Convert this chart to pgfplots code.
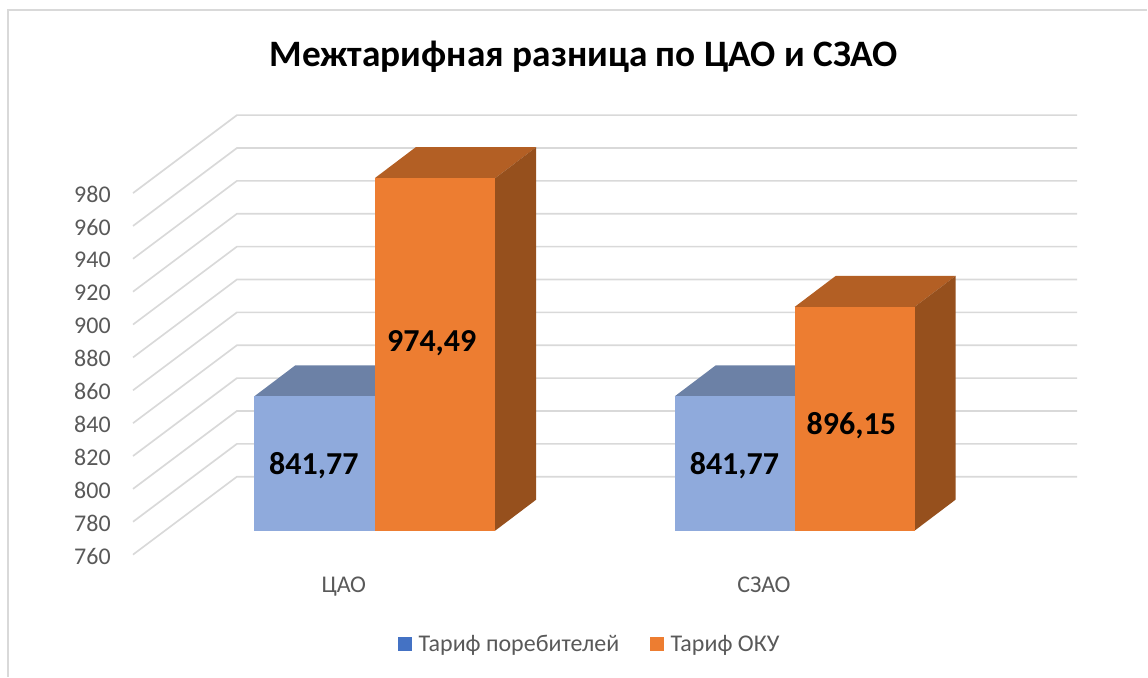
\documentclass[border=0pt]{standalone}
\usepackage{pgfplots}
\pgfplotsset{compat=1.18}
\usepackage{fontspec}
\setmainfont{Carlito}
\definecolor{gridc}{HTML}{D9D9D9}
\definecolor{blueface}{HTML}{8FAADC}
\definecolor{bluetop}{HTML}{6C81A6}
\definecolor{orangeface}{HTML}{ED7D31}
\definecolor{orangetop}{HTML}{B35F24}
\definecolor{orangeside}{HTML}{96501D}
\definecolor{legblue}{HTML}{4472C4}
\definecolor{txt}{HTML}{595959}
\begin{document}
\begin{tikzpicture}
\begin{axis}[
  scale only axis, width=861pt, height=507.75pt,
  xmin=0, xmax=1148, ymin=671.25, ymax=1082.83,
  clip=false,
  axis line style={draw=none},
  major tick length=0pt,
  minor tick num=0,
  ytick={760,780,800,820,840,860,880,900,920,940,960,980},
  xtick={344,764.5},
  xticklabels={ЦАО,СЗАО},
  /pgf/number format/assume math mode=true,
  /pgf/number format/1000 sep={},
  tick label style={font=\fontsize{18}{21}\selectfont, text=txt},
  yticklabel style={anchor=east, xshift=86.5pt, yshift=-19.1pt},
  xticklabel style={anchor=base, yshift=63pt},
  legend style={draw=none, fill=none, at={(axis cs:590.5,690.8)}, anchor=center,
    font=\fontsize{18}{21}\selectfont, text=txt, legend columns=2,
    /tikz/every even column/.append style={column sep=21pt},
    /tikz/every odd column/.append style={column sep=3pt}},
  legend cell align=left,
  legend image code/.code={\fill[#1] (0pt,-5.2pt) rectangle (10.5pt,5.2pt);},
]
% outer frame
\addplot[draw=gridc, line width=1.4pt, forget plot] coordinates {(7.5,671.25)(7.5,1076.7)(1148,1076.7)};
% gridlines: front end, back corner, back end
\addplot[draw=gridc, line width=1.25pt, forget plot] coordinates {(133,745.41)(237,792.83)(1078,792.83)};
\addplot[draw=gridc, line width=1.25pt, forget plot] coordinates {(133,765.41)(237,812.83)(1078,812.83)};
\addplot[draw=gridc, line width=1.25pt, forget plot] coordinates {(133,785.41)(237,832.83)(1078,832.83)};
\addplot[draw=gridc, line width=1.25pt, forget plot] coordinates {(133,805.41)(237,852.83)(1078,852.83)};
\addplot[draw=gridc, line width=1.25pt, forget plot] coordinates {(133,825.41)(237,872.83)(1078,872.83)};
\addplot[draw=gridc, line width=1.25pt, forget plot] coordinates {(133,845.41)(237,892.83)(1078,892.83)};
\addplot[draw=gridc, line width=1.25pt, forget plot] coordinates {(133,865.41)(237,912.83)(1078,912.83)};
\addplot[draw=gridc, line width=1.25pt, forget plot] coordinates {(133,885.41)(237,932.83)(1078,932.83)};
\addplot[draw=gridc, line width=1.25pt, forget plot] coordinates {(133,905.41)(237,952.83)(1078,952.83)};
\addplot[draw=gridc, line width=1.25pt, forget plot] coordinates {(133,925.41)(237,972.83)(1078,972.83)};
\addplot[draw=gridc, line width=1.25pt, forget plot] coordinates {(133,945.41)(237,992.83)(1078,992.83)};
\addplot[draw=gridc, line width=1.25pt, forget plot] coordinates {(133,965.41)(237,1012.83)(1078,1012.83)};
% CAO blue
\addplot[fill=bluetop, draw=none, forget plot] coordinates {(254.5,841.77)(295.5,860.61)(416,860.61)(375,841.77)} --cycle;
\addplot[fill=blueface, draw=none, forget plot] coordinates {(254.5,760)(375,760)(375,841.77)(254.5,841.77)} --cycle;
% CAO orange
\addplot[fill=orangetop, draw=none, forget plot] coordinates {(375,974.49)(416,993.33)(536.5,993.33)(495.5,974.49)} --cycle;
\addplot[fill=orangeside, draw=none, forget plot] coordinates {(495.5,760)(536.5,778.84)(536.5,993.33)(495.5,974.49)} --cycle;
\addplot[fill=orangeface, draw=none, forget plot] coordinates {(375,760)(495.5,760)(495.5,974.49)(375,974.49)} --cycle;
% SZAO blue
\addplot[fill=bluetop, draw=none, forget plot] coordinates {(675.3,841.77)(716.3,860.61)(836.3,860.61)(795.3,841.77)} --cycle;
\addplot[fill=blueface, draw=none, forget plot] coordinates {(675.3,760)(795.3,760)(795.3,841.77)(675.3,841.77)} --cycle;
% SZAO orange
\addplot[fill=orangetop, draw=none, forget plot] coordinates {(795.3,896.15)(836.3,914.99)(956.3,914.99)(915.3,896.15)} --cycle;
\addplot[fill=orangeside, draw=none, forget plot] coordinates {(915.3,760)(956.3,778.84)(956.3,914.99)(915.3,896.15)} --cycle;
\addplot[fill=orangeface, draw=none, forget plot] coordinates {(795.3,760)(915.3,760)(915.3,896.15)(795.3,896.15)} --cycle;
% legend
\addlegendimage{fill=legblue, draw=none}
\addlegendentry{Тариф поребителей}
\addlegendimage{fill=orangeface, draw=none}
\addlegendentry{Тариф ОКУ}
% data labels
\node[font=\bfseries\fontsize{24}{28}\selectfont, text=black] at (axis cs:314,799.3) {841,77};
\node[font=\bfseries\fontsize{24}{28}\selectfont, text=black] at (axis cs:432,873.8) {974,49};
\node[font=\bfseries\fontsize{24}{28}\selectfont, text=black] at (axis cs:735,799.3) {841,77};
\node[font=\bfseries\fontsize{24}{28}\selectfont, text=black] at (axis cs:852,824.2) {896,15};
% title
\node[font=\bfseries\fontsize{28}{33}\selectfont, text=black] at (axis cs:584,1048.5) {Межтарифная разница по ЦАО и СЗАО};
\end{axis}
\end{tikzpicture}
\end{document}
